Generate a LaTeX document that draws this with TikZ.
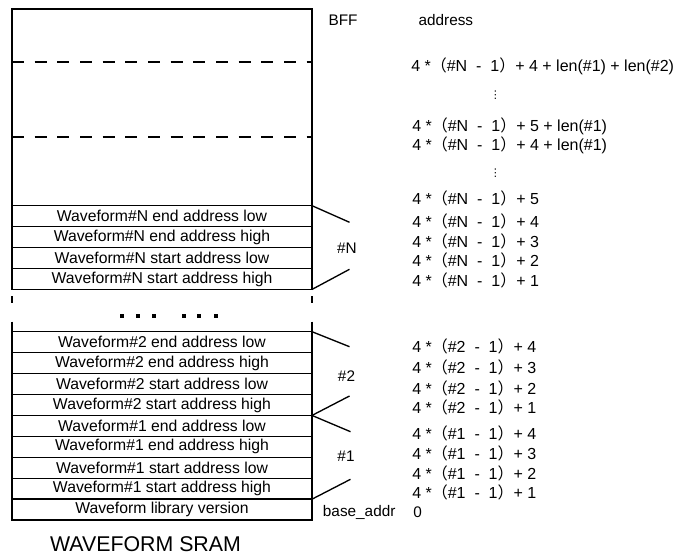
\documentclass[tikz,border=0pt]{standalone}
\usepackage{fontspec}
\setmainfont{Liberation Sans}
\newfontfamily\cjk{Noto Sans CJK SC}
\newfontfamily\dejavu{DejaVu Sans}
\usetikzlibrary{positioning}
\tikzset{
  cell/.style  = {draw, line width=1.1pt, rectangle, minimum width=225pt,
                  minimum height=15.7pt, inner sep=0pt, outer sep=0pt,
                  font=\fontsize{11.8}{12}\selectfont},
  lbl/.style   = {anchor=west, inner sep=0pt, font=\fontsize{11.5}{12}\selectfont},
  fml/.style   = {lbl, font=\fontsize{12}{12}\selectfont},
  grp/.style   = {inner sep=0pt, font=\fontsize{11.5}{12}\selectfont},
  vdot/.style  = {inner sep=0pt, font=\dejavu\fontsize{8}{8}\selectfont},
  brace/.style = {line width=1pt},
  sep/.style   = {line width=1pt, dash pattern=on 9pt off 8pt},
}
\newcommand{\addr}[2]{4 *{\cjk （}#1\ \ -\ \ 1{\cjk ）}+ #2}

\begin{document}
\begin{tikzpicture}[x=0.75pt,y=-0.75pt]
\useasboundingbox (0,0) rectangle (682,556);
% memory column
\node[cell, minimum height=147.5pt] (mem) at (162,107.35) {};
\node[cell, below=0pt of mem] (rN4) {Waveform\#N end address low};
\node[cell, below=0pt of rN4] (rN3) {Waveform\#N end address high};
\node[cell, below=0pt of rN3] (rN2) {Waveform\#N start address low};
\node[cell, below=0pt of rN2] (rN1) {Waveform\#N start address high};
\node[cell, anchor=north] (r24) at (162,331.7) {Waveform\#2 end address low};
\node[cell, below=0pt of r24] (r23) {Waveform\#2 end address high};
\node[cell, below=0pt of r23] (r22) {Waveform\#2 start address low};
\node[cell, below=0pt of r22] (r21) {Waveform\#2 start address high};
\node[cell, below=0pt of r21] (r14) {Waveform\#1 end address low};
\node[cell, below=0pt of r14] (r13) {Waveform\#1 end address high};
\node[cell, below=0pt of r13] (r12) {Waveform\#1 start address low};
\node[cell, below=0pt of r12] (r11) {Waveform\#1 start address high};
\node[cell, below=0pt of r11] (rver) {Waveform library version};
\node[font=\fontsize{16}{18}\selectfont] (title) at (145.5,544) {WAVEFORM SRAM};
% dashed splits in the free area
\coordinate (dA) at (0,62);
\coordinate (dB) at (0,137);
\draw[sep] (mem.west |- dA) -- (mem.east |- dA);
\draw[sep] (mem.west |- dB) -- (mem.east |- dB);
% broken walls and the gap dots
\draw[brace] (rN1.south west) ++(0,6.6) -- ++(0,7.3);
\draw[brace] (rN1.south east) ++(0,6.6) -- ++(0,7.3);
\draw[brace] (r24.north west) ++(0,-10) -- (r24.north west);
\draw[brace] (r24.north east) ++(0,-10) -- (r24.north east);
\foreach \dx in {122,138,153.8,183.8,198.7,215.5}
  \fill (\dx-2,314.3) rectangle ++(4,4);
% group brackets
\coordinate (tN) at (349.5,222.3);
\coordinate (bN) at (349.5,269.3);
\coordinate (t2) at (349.5,346.7);
\coordinate (b2) at (349.5,396);
\coordinate (t1) at (350.5,431.7);
\coordinate (b1) at (350.5,479.3);
\draw[brace] (rN4.north east) -- (tN);
\draw[brace] (rN1.south east) -- (bN);
\draw[brace] (r24.north east) -- (t2);
\draw[brace] (r21.south east) -- (b2);
\draw[brace] (r14.north east) -- (t1);
\draw[brace] (r11.south east) -- (b1);
\node[grp] (gN) at (347,248) {\#N};
\node[grp] (g2) at (346.5,376) {\#2};
\node[grp] (g1) at (346,456.7) {\#1};
% address column
\node[lbl] (bff) at (328.3,20) {BFF};
\node[lbl] (addr) at (418.3,20) {address};
\node[fml] (a0) at (411,66.7) {\addr{\#N}{4 + len(\#1) + len(\#2)}};
\node[vdot] (v1) at (495.5,95) {⋮};
\node[fml] (a1) at (412,126) {\addr{\#N}{5 + len(\#1)}};
\node[fml] (a2) at (412,145.7) {\addr{\#N}{4 + len(\#1)}};
\node[vdot] (v2) at (495.5,173.3) {⋮};
\node[fml] (aN5) at (412,198.3) {\addr{\#N}{5}};
\node[fml] (aN4) at (412,221.7) {\addr{\#N}{4}};
\node[fml] (aN3) at (412,241) {\addr{\#N}{3}};
\node[fml] (aN2) at (412,260.7) {\addr{\#N}{2}};
\node[fml] (aN1) at (412,280.7) {\addr{\#N}{1}};
\node[fml] (a24) at (412,346.7) {\addr{\#2}{4}};
\node[fml] (a23) at (412,367.7) {\addr{\#2}{3}};
\node[fml] (a22) at (412,388.3) {\addr{\#2}{2}};
\node[fml] (a21) at (412,407.7) {\addr{\#2}{1}};
\node[fml] (a14) at (412,433.3) {\addr{\#1}{4}};
\node[fml] (a13) at (412,453.3) {\addr{\#1}{3}};
\node[fml] (a12) at (412,473.3) {\addr{\#1}{2}};
\node[fml] (a11) at (412,492.7) {\addr{\#1}{1}};
\node[lbl] (base) at (322.7,512.7) {base\_addr};
\node[lbl] (zero) at (413,512.7) {0};
\end{tikzpicture}
\end{document}
